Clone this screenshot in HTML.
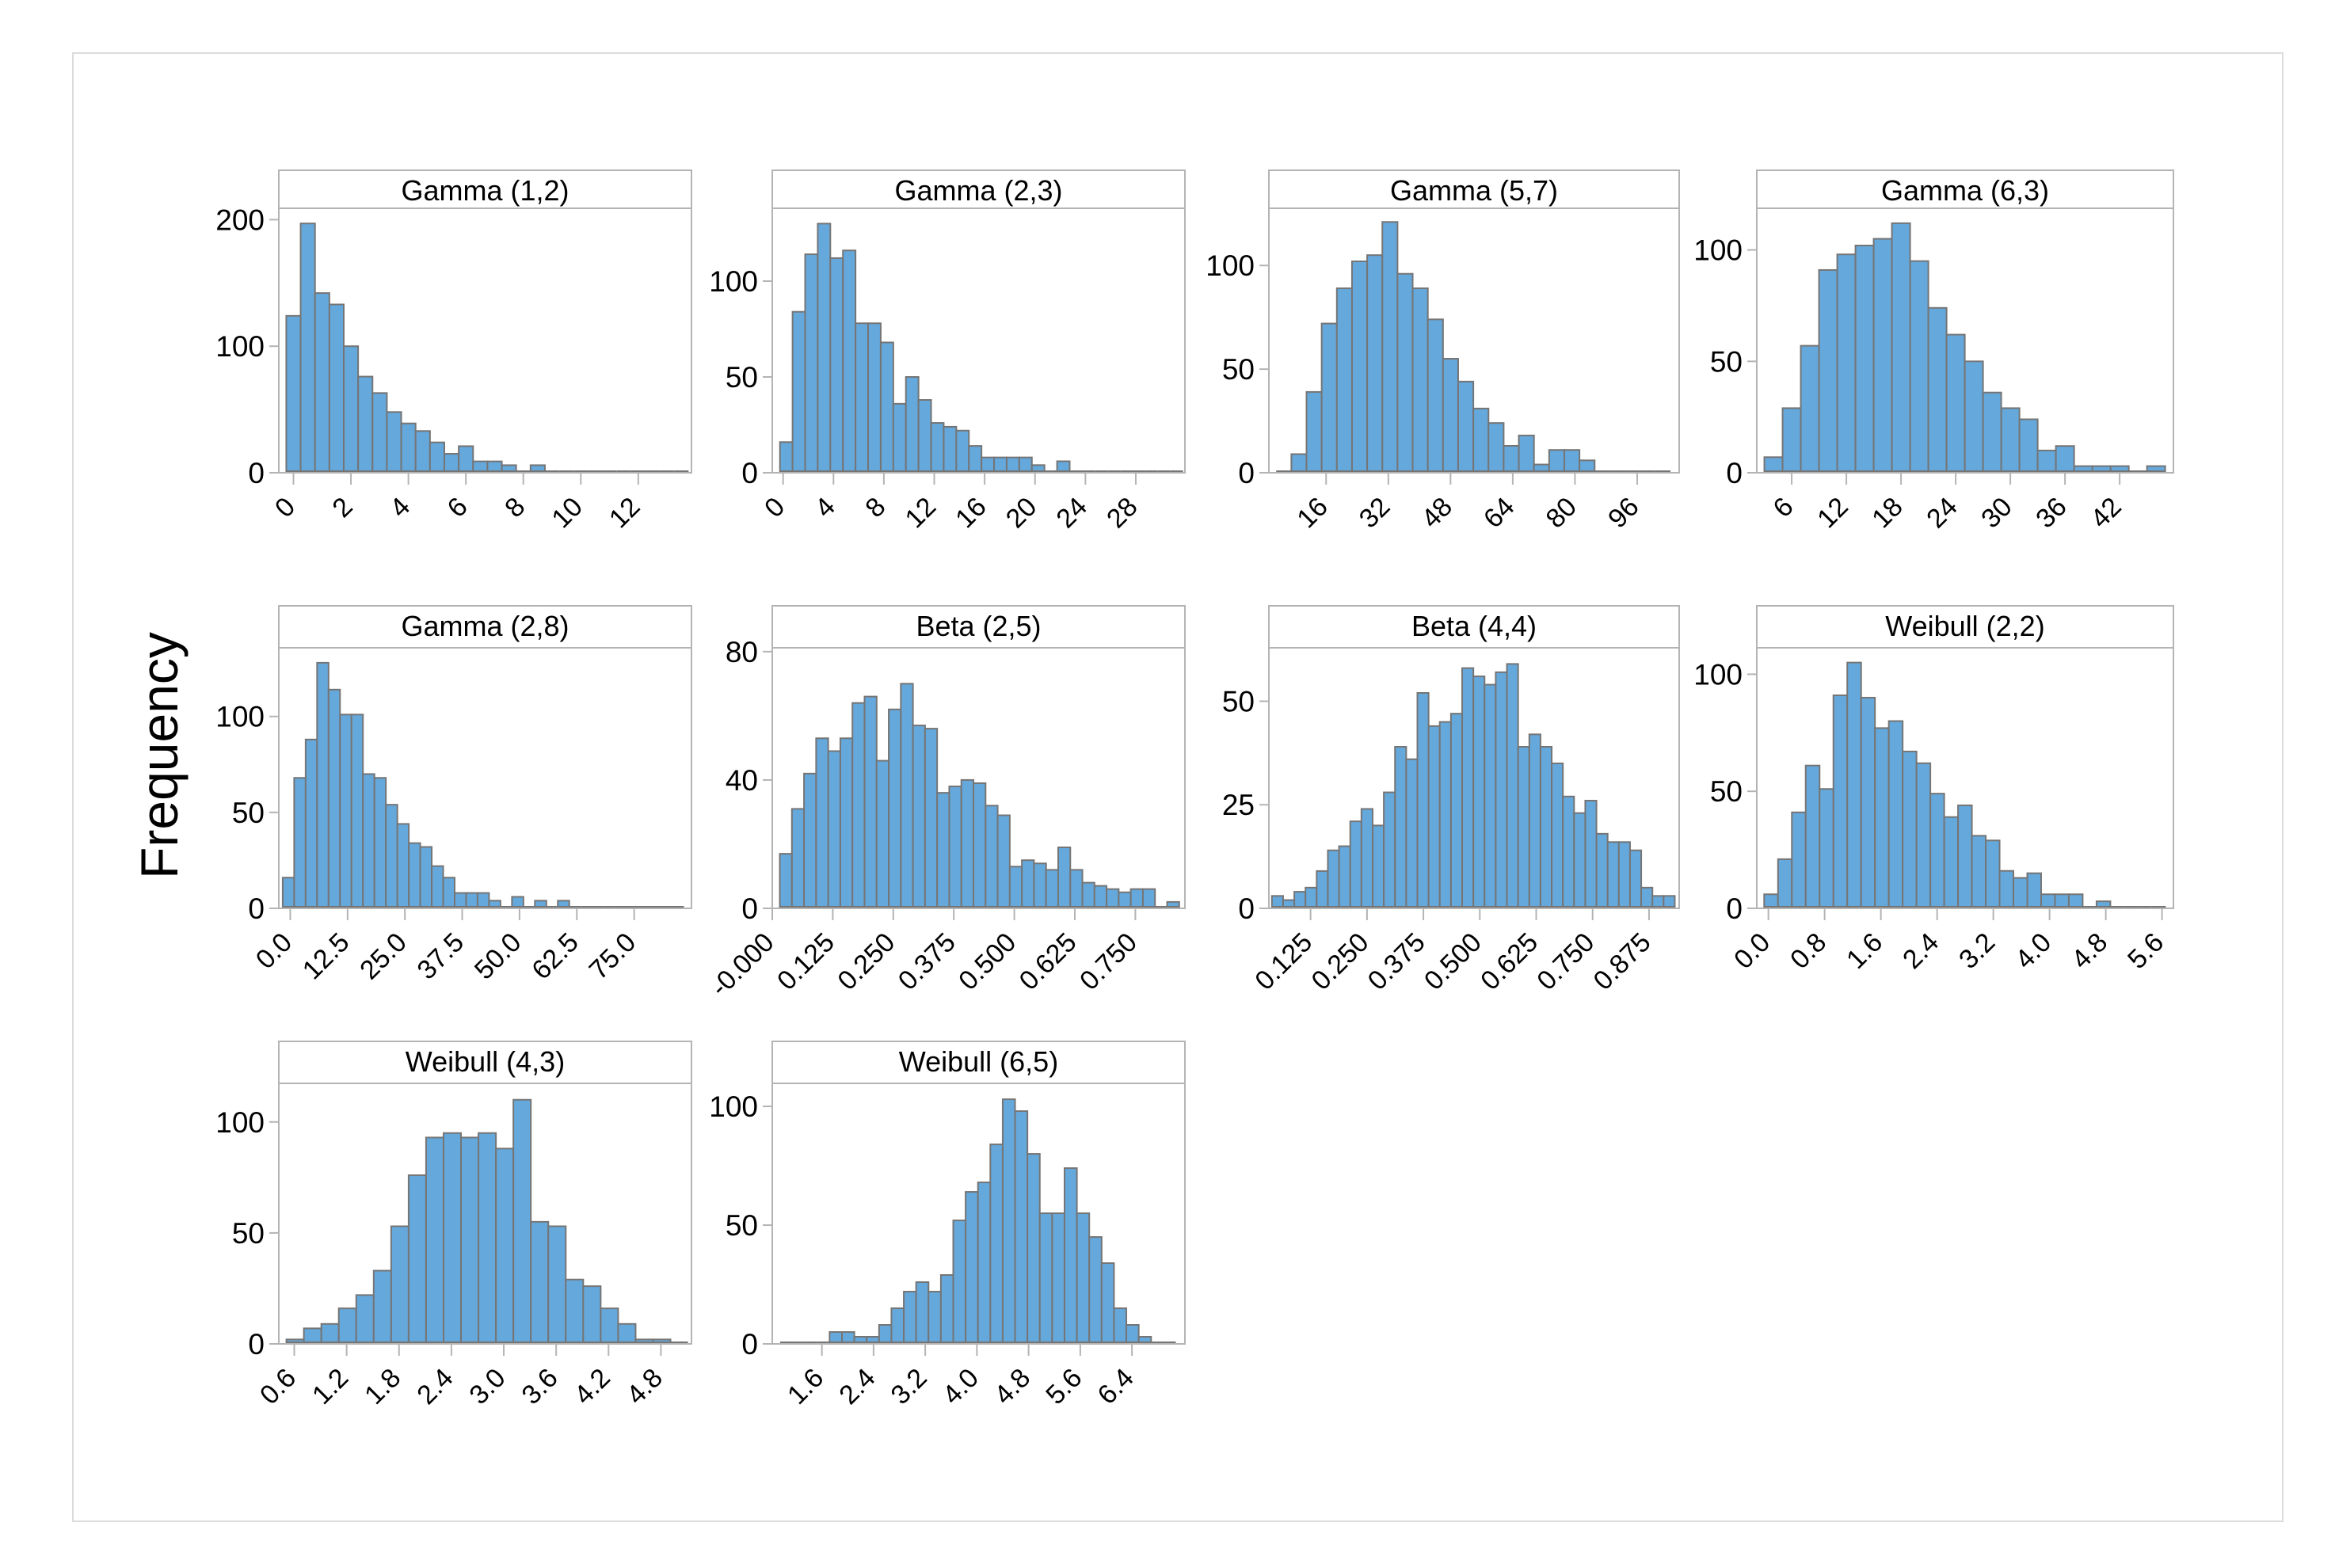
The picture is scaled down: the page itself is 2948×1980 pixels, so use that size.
<!DOCTYPE html>
<html><head><meta charset="utf-8"><style>
html,body{margin:0;padding:0;background:#fff;}
svg{display:block;font-family:"Liberation Sans",sans-serif;}
</style></head><body>
<svg id="chart" width="2948" height="1980" viewBox="0 0 2948 1980" xmlns="http://www.w3.org/2000/svg">
<rect x="92" y="67" width="2790" height="1854" fill="#fff" stroke="#dcdcdc" stroke-width="2"/>
<text x="0" y="0" transform="translate(224,954) rotate(-90)" text-anchor="middle" font-size="66" fill="#000">Frequency</text>
</svg>
<script>
const titles = ["Gamma (1,2)","Gamma (2,3)","Gamma (5,7)","Gamma (6,3)","Gamma (2,8)","Beta (2,5)","Beta (4,4)","Weibull (2,2)","Weibull (4,3)","Weibull (6,5)"];
const counts1 = [124,197,142,133,100,76,63,48,39,33,24,15,21,9,9,6,0,6,0,0,0,0,0,0,0,0,0,0];
const counts2 = [16,84,114,130,112,116,78,78,68,36,50,38,26,24,22,14,8,8,8,8,4,0,6,0,0,0,0,0,0,0,0,0];
const counts3 = [0,9,39,72,89,102,105,121,96,89,74,55,44,31,24,13,18,4,11,11,6,0,0,0,0,0];
const counts4 = [7,29,57,91,98,102,105,112,95,74,62,50,36,29,24,10,12,3,3,3,0,3];
const counts5 = [16,68,88,128,114,101,101,70,68,54,44,34,32,22,16,8,8,8,4,0,6,0,4,0,4,0,0,0,0,0,0,0,0,0,0];
const counts6 = [17,31,42,53,49,53,64,66,46,62,70,57,56,36,38,40,39,32,29,13,15,14,12,19,12,8,7,6,5,6,6,0,2];
const counts7 = [3,2,4,5,9,14,15,21,24,20,28,39,36,52,44,45,47,58,56,54,57,59,39,42,39,35,27,23,26,18,16,16,14,5,3,3];
const counts8 = [6,21,41,61,51,91,105,90,77,80,67,62,49,39,44,31,29,16,13,15,6,6,6,0,3,0,0,0,0];
const counts9 = [2,7,9,16,22,33,53,76,93,95,93,95,88,110,55,53,29,26,16,9,2,2,0];
const counts10 = [0,0,0,0,5,5,3,3,8,15,22,26,22,29,52,64,68,84,103,98,80,55,55,74,55,45,34,15,8,3,0,0];
const binStarts = [-0.25,-0.25,3.16,3.0,-1.65,0.0156,0.0393,-0.06,0.51,0.954];
const binWidths = [0.5,1,3.9,2.0,2.5,0.025,0.0248,0.197,0.2,0.1914];
const xDomains = [[-0.51,13.85],[-0.86,31.9],[1.28,106.8],[2.17,47.9],[-2.5,87.5],[0,0.8524],[0.0326,0.9418],[-0.165,5.762],[0.423,5.15],[0.832,7.22]];
const yMaxes = [209,138,127.6,118.7,135.8,81.2,62.9,111.3,117.4,109.7];
const xTicks1 = ["0","2","4","6","8","10","12"];
const xTicks2 = ["0","4","8","12","16","20","24","28"];
const xTicks3 = ["16","32","48","64","80","96"];
const xTicks4 = ["6","12","18","24","30","36","42"];
const xTicks5 = ["0.0","12.5","25.0","37.5","50.0","62.5","75.0"];
const xTicks6 = ["-0.000","0.125","0.250","0.375","0.500","0.625","0.750"];
const xTicks7 = ["0.125","0.250","0.375","0.500","0.625","0.750","0.875"];
const xTicks8 = ["0.0","0.8","1.6","2.4","3.2","4.0","4.8","5.6"];
const xTicks9 = ["0.6","1.2","1.8","2.4","3.0","3.6","4.2","4.8"];
const xTicks10 = ["1.6","2.4","3.2","4.0","4.8","5.6","6.4"];
const yTicks1 = [0,100,200];
const yTicks2 = [0,50,100];
const yTicks6 = [0,40,80];
const yTicks7 = [0,25,50];

const allCounts=[counts1,counts2,counts3,counts4,counts5,counts6,counts7,counts8,counts9,counts10];
const allXTicks=[xTicks1,xTicks2,xTicks3,xTicks4,xTicks5,xTicks6,xTicks7,xTicks8,xTicks9,xTicks10];
const allYTicks=[yTicks1,yTicks2,yTicks2,yTicks2,yTicks2,yTicks6,yTicks7,yTicks2,yTicks2,yTicks2];
const colsL=[352,975,1602,2218], colsR=[873,1496,2120,2744];
const rowsTop=[215,765,1315], rowsTitle=[263,818,1368], rowsBot=[597,1147,1697];
const NS="http://www.w3.org/2000/svg";
const svg=document.getElementById('chart');
function mk(tag,attrs,parent){const e=document.createElementNS(NS,tag);for(const k in attrs)e.setAttribute(k,attrs[k]);(parent||svg).appendChild(e);return e;}
for(let p=0;p<10;p++){
  const r=Math.floor(p/4), c=p%4;
  const L=colsL[c],R=colsR[c],T=rowsTop[r],TB=rowsTitle[r],B=rowsBot[r];
  const g=mk('g',{});
  
  
  const [d0,d1]=xDomains[p];
  const xs=v=>L+(v-d0)/(d1-d0)*(R-L);
  const ys=v=>B-v/yMaxes[p]*(B-TB);
  const frame=mk('rect',{x:L,y:T,width:R-L,height:B-T,fill:'#fff',stroke:'#b4b4b4','stroke-width':2},g);
  
  
  const tl=mk('line',{x1:L,x2:R,y1:TB,y2:TB,stroke:'#b4b4b4','stroke-width':2},g);
  
  
  const tt=mk('text',{x:(L+R)/2,y:T+38,'text-anchor':'middle','font-size':36,fill:'#000'},g);
  tt.textContent=titles[p];
  
  
  allYTicks[p].forEach(v=>{
    const y=ys(v);
    const ln=mk('line',{x1:L-12,x2:L,y1:y,y2:y,stroke:'#b4b4b4','stroke-width':2},g);
    
    
    const t=mk('text',{x:L-18,y:y+13,'text-anchor':'end','font-size':37,fill:'#000'},g);
    t.textContent=String(v);
    
    
  });
  allXTicks[p].forEach(s=>{
    const x=xs(parseFloat(s));
    const ln=mk('line',{x1:x,x2:x,y1:B,y2:B+15,stroke:'#b4b4b4','stroke-width':2},g);
    
    
    const t=mk('text',{x:0,y:0,'text-anchor':'end','font-size':34,fill:'#000',transform:'translate('+(x+4)+','+(B+45)+') rotate(-45)'},g);
    t.textContent=s;
    
    
  });
  const cnt=allCounts[p];
  const b0=ys(0)-2;
  cnt.forEach((v,i)=>{
    const x0=xs(binStarts[p]+i*binWidths[p]), x1=xs(binStarts[p]+(i+1)*binWidths[p]);
    if(v>0){
      const y=ys(v);
      const rc=mk('rect',{x:x0,y:y,width:x1-x0,height:Math.max(0,b0-y),fill:'#65a8dc',stroke:'#757575','stroke-width':2},g);
      
      
    } else {
      const ln=mk('line',{x1:x0,x2:x1,y1:b0,y2:b0,stroke:'#757575','stroke-width':2},g);
      
      
    }
  });
}
</script>
</body></html>
